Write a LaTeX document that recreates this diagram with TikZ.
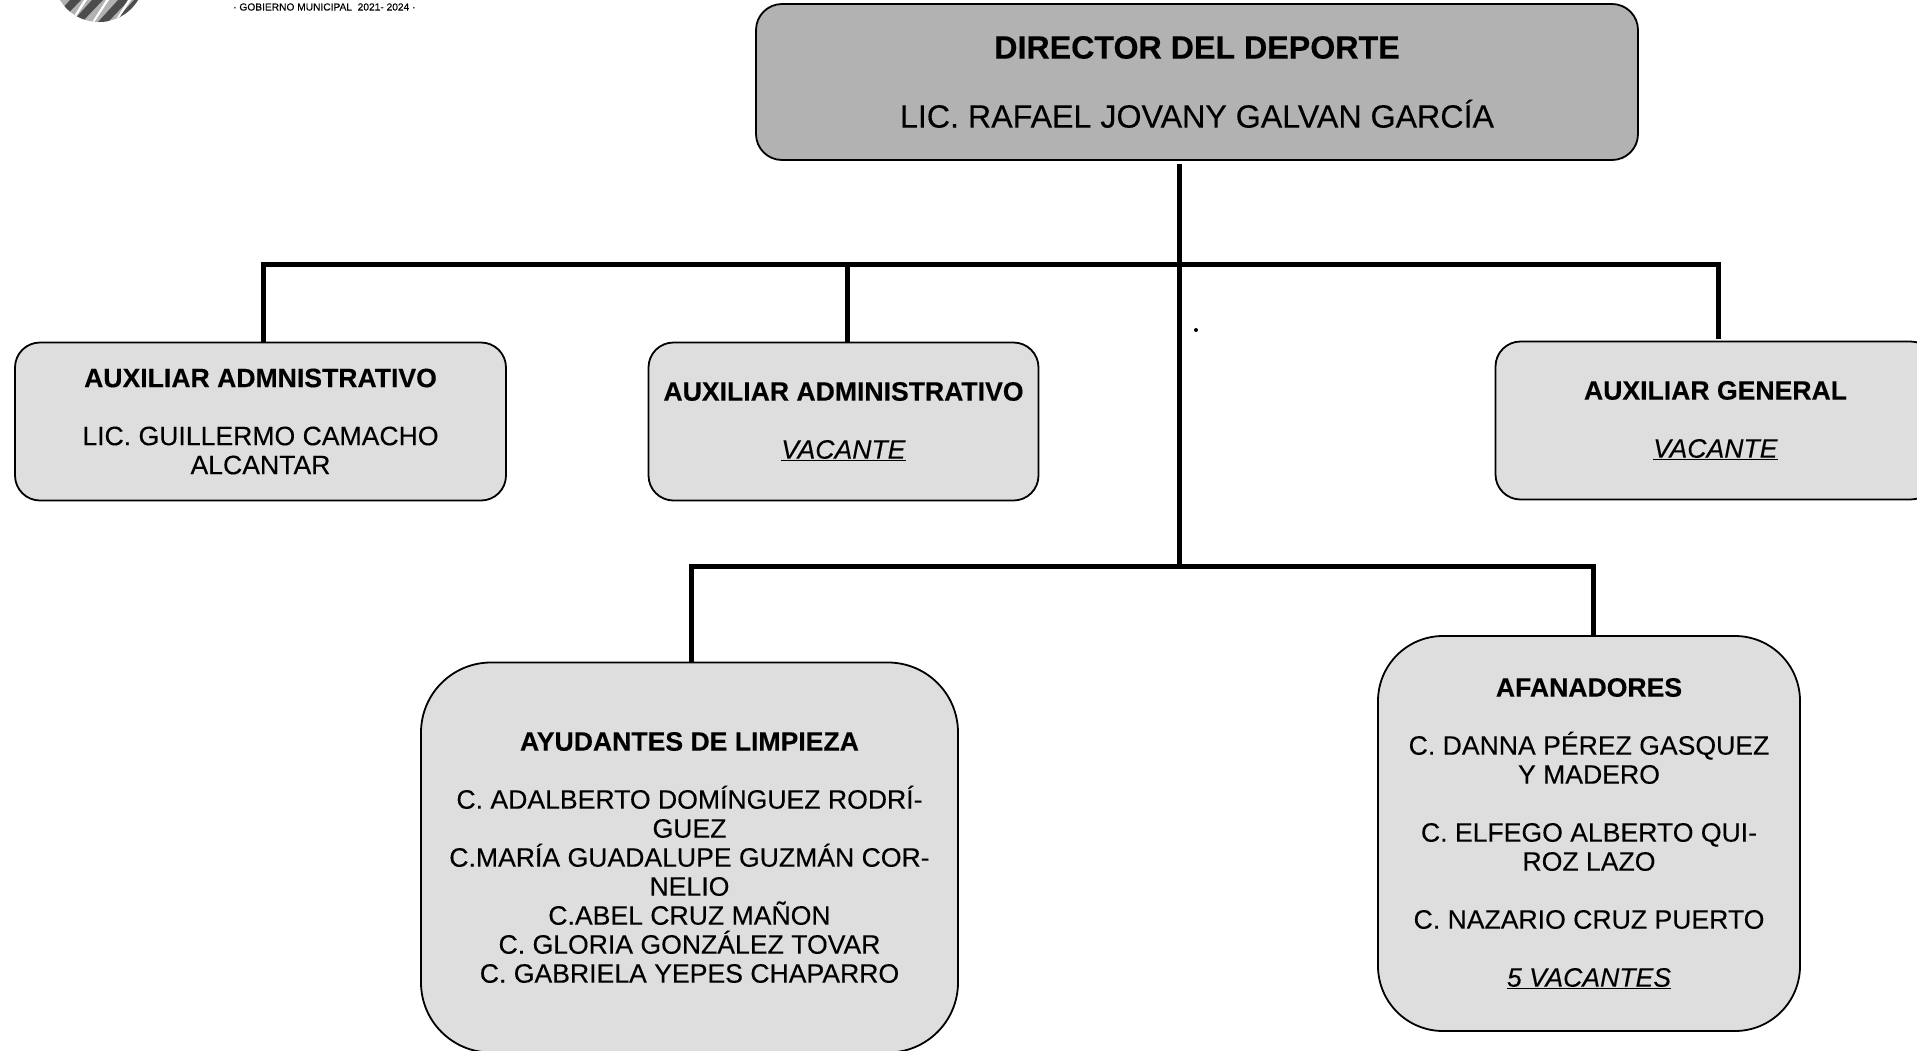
\documentclass[tikz,border=0pt]{standalone}
\usepackage{fontspec}
\setmainfont{Liberation Sans}[UprightFeatures={FakeBold=0.25},ItalicFeatures={FakeBold=0.25},BoldFeatures={FakeBold=0.3}]
\definecolor{dirgray}{gray}{0.70}
\definecolor{boxgray}{gray}{0.87}
\tikzset{
  x=1pt,y=-1pt,
  orgbox/.style={draw=black,line width=1.8pt,align=center,inner sep=0pt,text=black,
    fill=boxgray,font=\fontsize{26.6}{29}\selectfont},
  dirbox/.style={orgbox,fill=dirgray,font=\fontsize{32.2}{35}\selectfont},
  conn/.style={draw=black,line width=5pt,line cap=butt},
}
\begin{document}
\begin{tikzpicture}
\clip (0,0) rectangle (1917,1050);
\fill[white] (0,0) rectangle (1917,1050);
% logo fragment
\begin{scope}
  \clip (99,-23.6) circle (45.6);
  \fill[gray!60] (50,0) rectangle (150,25);
  \foreach \a in {70,92,118,134}{
    \fill[black!70] (\a,0) -- (\a+11,0) -- (\a-10,22) -- (\a-20,22) -- cycle;
  }
  \foreach \a in {84,106,128}{
    \fill[white] (\a,0) -- (\a+3,0) -- (\a-13,24) -- (\a-15,24) -- cycle;
  }
\end{scope}
\node[name=gob,anchor=west,inner sep=0pt,font=\fontsize{10.2}{12}\selectfont] at (233,7) {· GOBIERNO MUNICIPAL\ \ 2021- 2024 ·};
% boxes
\node[dirbox,rounded corners=26pt,minimum width=882pt,minimum height=156pt] (dir) at (1197,82)
  {\raisebox{1pt}{\textbf{DIRECTOR DEL DEPORTE}}\\[33pt]LIC. RAFAEL JOVANY GALVAN GARCÍA};
\node[orgbox,rounded corners=25pt,minimum width=491pt,minimum height=158pt] (auxa) at (260.5,421.5)
  {\textbf{AUXILIAR ADMNISTRATIVO}\\[29pt]LIC. GUILLERMO CAMACHO\\ALCANTAR};
\node[orgbox,rounded corners=25pt,minimum width=390pt,minimum height=158pt] (auxb) at (843.5,421.5)
  {\textbf{AUXILIAR ADMINISTRATIVO}\\[29pt]\underline{\textit{VACANTE}}};
\node[orgbox,rounded corners=25pt,minimum width=440pt,minimum height=158pt] (auxc) at (1715.5,420.5)
  {\textbf{AUXILIAR GENERAL}\\[29pt]\underline{\textit{VACANTE}}};
\node[orgbox,rounded corners=70pt,minimum width=537pt,minimum height=390pt] (ayu) at (689.5,857.5)
  {\textbf{AYUDANTES DE LIMPIEZA}\\[29pt]C. ADALBERTO DOMÍNGUEZ RODRÍ-\\GUEZ\\C.MARÍA GUADALUPE GUZMÁN COR-\\NELIO\\C.ABEL CRUZ MAÑON\\C. GLORIA GONZÁLEZ TOVAR\\C. GABRIELA YEPES CHAPARRO};
\node[orgbox,rounded corners=65pt,minimum width=422pt,minimum height=395pt] (afa) at (1589,833.5)
  {\textbf{AFANADORES}\\[29pt]C. DANNA PÉREZ GASQUEZ\\Y MADERO\\[29pt]C. ELFEGO ALBERTO QUI-\\ROZ LAZO\\[29pt]C. NAZARIO CRUZ PUERTO\\[29pt]\underline{\textit{5 VACANTES}}};
% junctions
\coordinate (spinetop) at (1179,264);
\coordinate (spinebot) at (1179,566);
\coordinate (busl) at (263,264);
\coordinate (busm) at (847,264);
\coordinate (busr) at (1718,264);
\coordinate (lowl) at (691,566);
\coordinate (lowr) at (1593,566);
% connectors
\draw[conn] (spinetop |- 0,164) -- (spinebot);
\draw[conn] ([xshift=-2.5pt]busl) -- ([xshift=2.5pt]busr);
\draw[conn] (busl) -- (busl |- auxa.north);
\draw[conn] (busm) -- (busm |- auxb.north);
\draw[conn] (busr) -- (busr |- 0,339);
\draw[conn] ([xshift=-2.5pt]lowl) -- ([xshift=2.5pt]lowr);
\draw[conn] (lowl) -- (lowl |- ayu.north);
\draw[conn] (lowr) -- (lowr |- afa.north);
\fill[black] (1196,330) circle (2);
\end{tikzpicture}
\end{document}
